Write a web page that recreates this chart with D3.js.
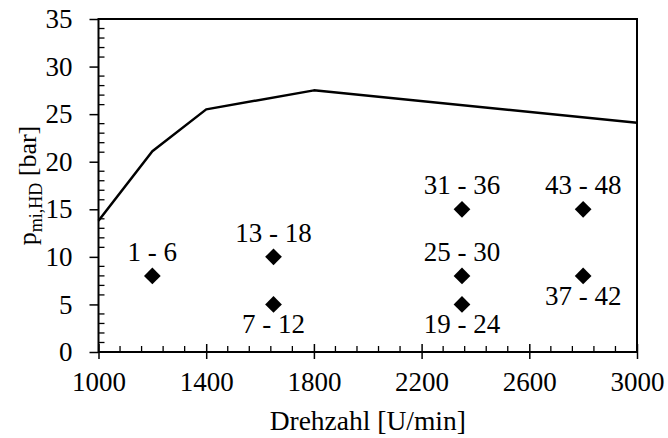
<!DOCTYPE html>
<html>
<head>
<meta charset="utf-8">
<script src="https://cdn.jsdelivr.net/npm/d3@7"></script>
<style>
  body { margin: 0; background: #fff; }
</style>
</head>
<body>
<div id="chart"></div>
<script>
// full load line
var lineSpeed = [1000, 1200, 1400, 1800, 3000];
var linePmi = [13.8, 21.1, 25.5, 27.5, 24.1];

// operating points
var pointSpeed = [1200, 1650, 1650, 2350, 2350, 2350, 2800, 2800];
var pointPmi = [8, 5, 10, 5, 8, 15, 8, 15];
var pointLabel = ["1 - 6", "7 - 12", "13 - 18", "19 - 24", "25 - 30", "31 - 36", "37 - 42", "43 - 48"];
var labelSide = ["above", "below", "above", "below", "above", "above", "below", "above"];

var xTicks = [1000, 1400, 1800, 2200, 2600, 3000];
var yTicks = [0, 5, 10, 15, 20, 25, 30, 35];

var FONT = "Liberation Serif";
var width = 668, height = 438;
var margin = {left: 98.5, right: 31, top: 19, bottom: 86};
var pw = width - margin.left - margin.right,
    ph = height - margin.top - margin.bottom;

var svg = d3.select("#chart").append("svg")
  .attr("width", width)
  .attr("height", height);

var g = svg.append("g")
  .attr("transform", "translate(" + margin.left + "," + margin.top + ")");

var x = d3.scaleLinear().domain([1000, 3000]).range([0, pw]);
var y = d3.scaleLinear().domain([0, 35]).range([ph, 0]);

// frame
g.append("rect")
  .attr("width", pw).attr("height", ph)
  .attr("fill", "none").attr("stroke", "#000").attr("stroke-width", 2);

// minor ticks (inside)
var xMinor = d3.range(1000, 3000, 80).filter(function(d){ return (d - 1000) % 400 !== 0; });
g.selectAll(".xminor").data(xMinor).enter().append("line")
  .attr("x1", function(d){ return x(d); }).attr("x2", function(d){ return x(d); })
  .attr("y1", ph).attr("y2", ph - 6)
  .attr("stroke", "#000").attr("stroke-width", 1.3);

var yMinor = d3.range(0, 35, 1).filter(function(d){ return d % 5 !== 0; });
g.selectAll(".yminor").data(yMinor).enter().append("line")
  .attr("x1", 0).attr("x2", 6)
  .attr("y1", function(d){ return y(d); }).attr("y2", function(d){ return y(d); })
  .attr("stroke", "#000").attr("stroke-width", 1.3);

// x axis
var xAxis = g.append("g")
  .attr("transform", "translate(0," + ph + ")")
  .call(d3.axisBottom(x).tickValues(xTicks).tickSize(7).tickPadding(13).tickFormat(d3.format("d")));
xAxis.select(".domain").remove();
xAxis.selectAll(".tick line").attr("y1", -8).attr("stroke-width", 1.5);
xAxis.selectAll("text").attr("font-size", 27).attr("fill", "#000").style("font-family", FONT);

// y axis
var yAxis = g.append("g")
  .call(d3.axisLeft(y).tickValues(yTicks).tickSize(9).tickPadding(17));
yAxis.select(".domain").remove();
yAxis.selectAll(".tick line").attr("stroke-width", 1.5);
yAxis.selectAll("text").attr("font-size", 27).attr("fill", "#000").style("font-family", FONT);

// full load line
var lineData = lineSpeed.map(function(d, i){ return [d, linePmi[i]]; });
g.append("path")
  .datum(lineData)
  .attr("fill", "none")
  .attr("stroke", "#000")
  .attr("stroke-width", 2.5)
  .attr("stroke-linejoin", "round")
  .attr("d", d3.line().x(function(d){ return x(d[0]); }).y(function(d){ return y(d[1]); }));

// points
var pts = pointSpeed.map(function(d, i){
  return {s: d, p: pointPmi[i], label: pointLabel[i], side: labelSide[i]};
});
var diamond = d3.symbol().type(d3.symbolSquare).size(140);
g.selectAll(".pt").data(pts).enter().append("path")
  .attr("d", diamond)
  .attr("transform", function(d){ return "translate(" + x(d.s) + "," + y(d.p) + ") rotate(45)"; })
  .attr("fill", "#000");

g.selectAll(".lbl").data(pts).enter().append("text")
  .attr("x", function(d){ return x(d.s); })
  .attr("y", function(d){ return y(d.p) + (d.side === "above" ? -15 : 29); })
  .attr("text-anchor", "middle")
  .attr("font-size", 27)
  .style("font-family", FONT)
  .text(function(d){ return d.label; });

// axis titles
svg.append("text")
  .attr("x", margin.left + pw / 2)
  .attr("y", 430)
  .attr("text-anchor", "middle")
  .attr("font-size", 27.5)
  .style("font-family", FONT)
  .text("Drehzahl [U/min]");

var yl = svg.append("text")
  .attr("transform", "translate(35.5," + (margin.top + ph / 2) + ") rotate(-90)")
  .attr("text-anchor", "middle")
  .attr("font-size", 26)
  .style("font-family", FONT);
yl.append("tspan").text("p");
yl.append("tspan").attr("font-size", 18).attr("dy", 6).text("mi,HD");
yl.append("tspan").attr("dy", -6).text(" [bar]");
</script>
</body>
</html>
